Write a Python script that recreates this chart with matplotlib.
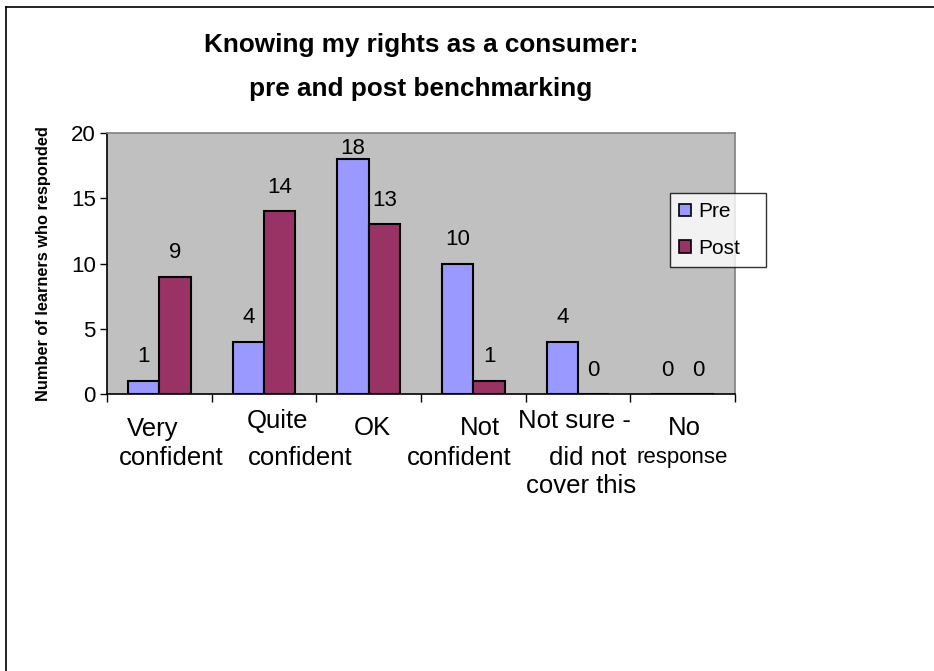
import matplotlib
matplotlib.use("Agg")
import matplotlib.pyplot as plt
import matplotlib.transforms as mtransforms
import numpy as np
from matplotlib.lines import Line2D

plt.rcParams['font.family'] = ['Liberation Sans', 'DejaVu Sans']

categories = ["Very confident", "Quite confident", "OK", "Not confident",
              "Not sure - did not cover this", "No response"]
# wrapped lines of each category label, as shown in the chart
category_lines = [["Very", "confident"], ["Quite", "confident"], ["OK"],
                  ["Not", "confident"], ["Not sure -", "did not", "cover this"],
                  ["No", "response"]]
pre = [1, 4, 18, 10, 4, 0]
post = [9, 14, 13, 1, 0, 0]
series_names = ["Pre", "Post"]
title = "Knowing my rights as a consumer:\npre and post benchmarking"
ylabel = "Number of learners who responded"
yticks = [0, 5, 10, 15, 20]

# layout (per label line: dx px from category centre, y px from top, font size)
line_layout = [[(-7, 429, 18.5), (12, 458, 18.5)], [(13, 421, 18.5), (36, 458, 18.5)], [(4, 428, 18.5)],
               [(7, 428, 18.5), (-14, 458, 18.5)], [(-4, 421, 18.5), (10, 458, 18.5), (3, 486, 18.5)],
               [(2, 428, 18.5), (0, 457, 16)]]

W, H = 934, 671
fig = plt.figure(figsize=(W / 100, H / 100), dpi=100)
fig.patch.set_facecolor("white")

# outer frame (cut off at right and bottom)
fig.add_artist(Line2D([5.5 / W, 5.5 / W], [0, 1 - 6.5 / H], color="black", lw=1.2, transform=fig.transFigure))
fig.add_artist(Line2D([5.5 / W, 1], [1 - 6.5 / H, 1 - 6.5 / H], color="black", lw=1.2, transform=fig.transFigure))

left, right, top, bottom = 107, 735, 133, 394
ax = fig.add_axes([left / W, 1 - bottom / H, (right - left) / W, (bottom - top) / H])
ax.set_facecolor("#C0C0C0")

x = np.arange(len(categories))
bw = 0.3
ax.bar(x - bw / 2, pre, bw, color="#9999FF", edgecolor="black", linewidth=1.5, label=series_names[0], zorder=3)
ax.bar(x + bw / 2, post, bw, color="#993366", edgecolor="black", linewidth=1.5, label=series_names[1], zorder=3)

ax.set_xlim(-0.5, len(categories) - 0.5)
ax.set_ylim(0, 20)

# data labels: 24 px above the bar, kept inside the plot area
px_per_unit = (bottom - top) / 20.0
for xs, vals in [(x - bw / 2, pre), (x + bw / 2, post)]:
    for xi, v in zip(xs, vals):
        ax.text(xi, min(v + 24 / px_per_unit, 20 - 15 / px_per_unit), str(v),
                ha="center", va="center", fontsize=16, zorder=4)

ax.set_yticks(yticks)
ax.set_yticklabels([str(t) for t in yticks], fontsize=16)
ax.tick_params(axis="y", direction="out", length=5, width=1, pad=3)

# x ticks at category boundaries
ax.set_xticks(np.arange(len(categories) + 1) - 0.5)
ax.set_xticklabels([])
ax.tick_params(axis="x", direction="out", length=6, width=1)

# category labels, line by line
base = mtransforms.blended_transform_factory(ax.transData, fig.transFigure)
for xi, lines, lay in zip(x, category_lines, line_layout):
    for txt, (dx, ypx, fs) in zip(lines, lay):
        tr = base + mtransforms.ScaledTranslation(dx / 100, 0, fig.dpi_scale_trans)
        ax.text(xi, 1 - ypx / H, txt, transform=tr, ha="center", va="center",
                fontsize=fs, clip_on=False)

for s in ["top", "right"]:
    ax.spines[s].set_color("#808080")
    ax.spines[s].set_linewidth(1.2)
for s in ["left", "bottom"]:
    ax.spines[s].set_color("black")
    ax.spines[s].set_linewidth(1.2)

ax.set_ylabel(ylabel, fontsize=11.8, fontweight="bold")
ax.yaxis.set_label_coords((51 - left) / (right - left), 0.5)

fig.text(421 / W, 1 - 67 / H, title, ha="center", va="center", fontsize=18.8,
         fontweight="bold", linespacing=2.05)

leg = ax.legend(loc="upper left", bbox_to_anchor=(670 / W, 1 - 268 / H, 96 / W, 75 / H),
                bbox_transform=fig.transFigure, mode="expand",
                borderaxespad=0, fontsize=15, frameon=True, fancybox=False, edgecolor="black",
                handlelength=0.55, handleheight=0.55, handletextpad=0.35, labelspacing=0.85,
                borderpad=0.45)
leg.get_frame().set_linewidth(1.0)
for h in leg.legend_handles:
    h.set_linewidth(1.2)

fig.savefig("out.png", dpi=100)
